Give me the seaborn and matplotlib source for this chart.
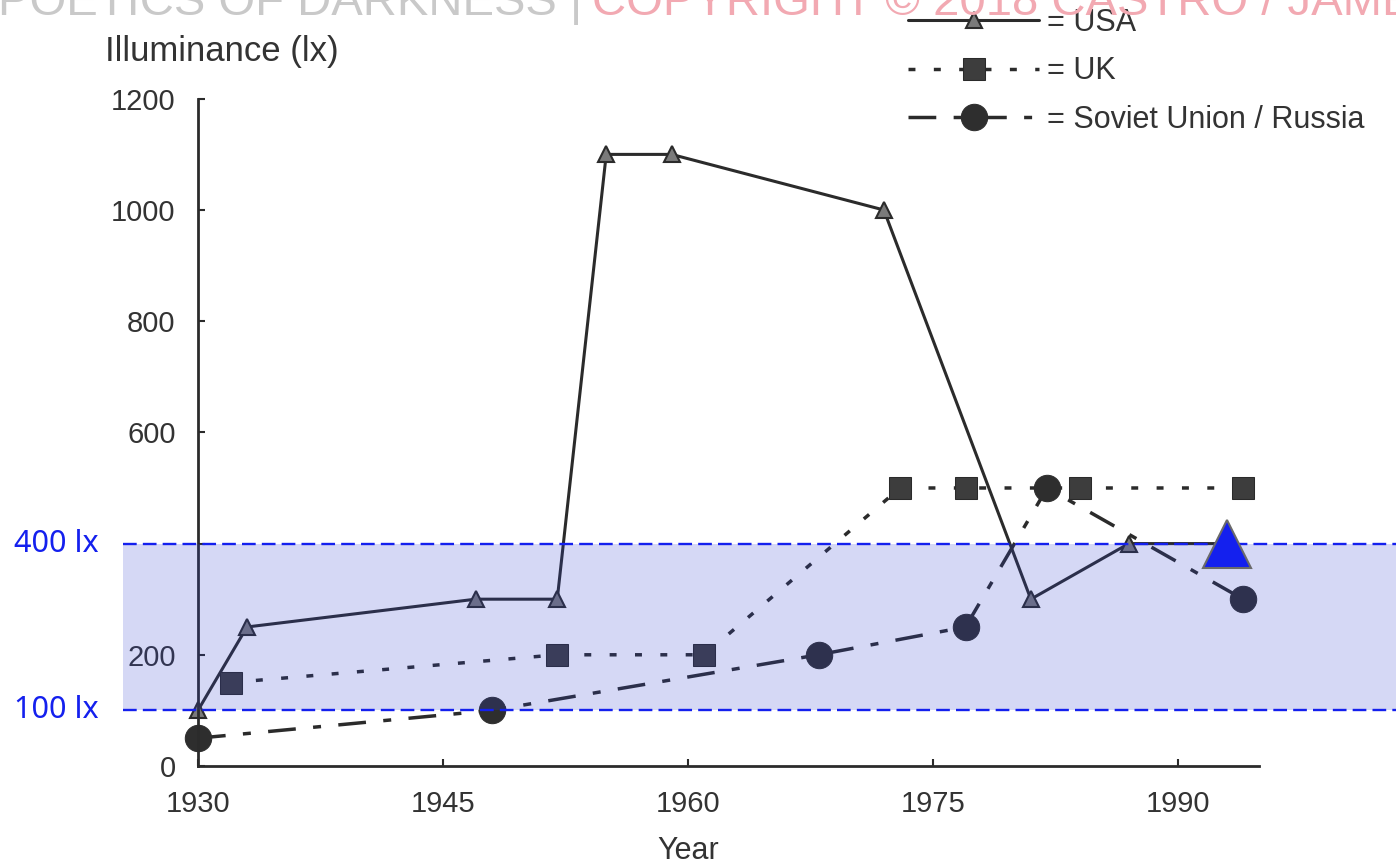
import matplotlib

matplotlib.use("Agg")
import matplotlib.pyplot as plt
import matplotlib.transforms as mtransforms
import seaborn as sns


# values
USA_YEARS = [1930, 1933, 1947, 1952, 1955, 1959, 1972, 1981, 1987, 1993]
USA_LUX = [100, 250, 300, 300, 1100, 1100, 1000, 300, 400, 400]
UK_YEARS = [1932, 1952, 1961, 1973, 1977, 1984, 1994]
UK_LUX = [150, 200, 200, 500, 500, 500, 500]
SOVIET_YEARS = [1930, 1948, 1968, 1977, 1982, 1994]
SOVIET_LUX = [50, 100, 200, 250, 500, 300]

BAND_LOW = 100
BAND_HIGH = 400
BAND_LABELS = ["100 lx", "400 lx"]
X_TICKS = [1930, 1945, 1960, 1975, 1990]
Y_TICKS = [0, 200, 400, 600, 800, 1000, 1200]
# the 400 label is hidden under the "400 lx" marker in the source
Y_TICK_LABELS = ["0", "200", "", "600", "800", "1000", "1200"]

INK = "#2b2b2b"
TEXT = "#333333"
BLUE = "#1420ee"
W, H = 1396, 865


def setup_style() -> None:
    sns.set_theme(style="white")
    plt.rcParams["font.family"] = ["Liberation Sans", "DejaVu Sans"]
    plt.rcParams["axes.facecolor"] = "white"
    plt.rcParams["figure.facecolor"] = "white"


def main() -> None:
    setup_style()
    fig = plt.figure(figsize=(W / 100, H / 100), dpi=100)
    ax = fig.add_axes([123 / W, 0, (W - 123) / W, 1])

    sns.lineplot(
        x=USA_YEARS, y=USA_LUX, ax=ax, color=INK, linewidth=2.2,
        marker="^", markersize=11, markerfacecolor="#7a7a7a",
        markeredgecolor=INK, markeredgewidth=1.5, label="= USA", zorder=2,
    )
    sns.lineplot(
        x=UK_YEARS, y=UK_LUX, ax=ax, color=INK, linewidth=2.5,
        linestyle=(0, (2, 5.3)), marker="s", markersize=16,
        markerfacecolor="#3d3d3d", markeredgecolor="#2a2a2a",
        label="= UK", zorder=2,
    )
    sns.lineplot(
        x=SOVIET_YEARS, y=SOVIET_LUX, ax=ax, color=INK, linewidth=2.5,
        linestyle=(0, (8, 5, 2.3, 5)), marker="o", markersize=19,
        markerfacecolor="#2e2e2e", markeredgecolor="#2e2e2e",
        label="= Soviet Union / Russia", zorder=2,
    )

    # recommended range band
    ax.axhspan(BAND_LOW, BAND_HIGH, color="#3040d0", alpha=0.2, lw=0, zorder=3)
    for level in (BAND_LOW, BAND_HIGH):
        ax.axhline(level, color=BLUE, lw=1.7, dashes=(5.8, 2.6), zorder=4)
    ax.plot(
        [USA_YEARS[-1]], [USA_LUX[-1]], marker="^", markersize=34,
        markerfacecolor=BLUE, markeredgecolor="#6a6a6a", markeredgewidth=1.5,
        linestyle="none", zorder=5,
    )

    trans = mtransforms.blended_transform_factory(fig.transFigure, ax.transData)
    for level, text in zip((BAND_LOW, BAND_HIGH), BAND_LABELS):
        ax.text(14 / W, level, text, transform=trans, ha="left", va="center",
                fontsize=22, color=BLUE, family=["Noto Sans", "DejaVu Sans"])

    ax.set_xlim(1925.41, 2003.36)
    ax.set_ylim(-178.1, 1377.7)
    for side in ("top", "right"):
        ax.spines[side].set_visible(False)
    ax.spines["left"].set_position(("data", 1930))
    ax.spines["left"].set_bounds(0, 1200)
    ax.spines["bottom"].set_position(("data", 0))
    ax.spines["bottom"].set_bounds(1930, 1995)
    for side in ("left", "bottom"):
        ax.spines[side].set_color(INK)
        ax.spines[side].set_linewidth(2.0)

    ax.set_xticks(X_TICKS)
    ax.set_yticks(Y_TICKS, Y_TICK_LABELS)
    ax.tick_params(axis="both", direction="in", length=5, width=1.5,
                   color=INK, labelsize=21, labelcolor=TEXT)
    ax.tick_params(axis="y", pad=16, left=True)
    ax.tick_params(axis="x", pad=17, bottom=True)

    ax.set_xlabel("Year", fontsize=22, color=TEXT)
    ax.xaxis.set_label_coords((688 - 123) / (W - 123), (H - 836) / H)
    ax.set_ylabel("")
    fig.text(105 / W, 1 - 52 / H, "Illuminance (lx)", ha="left", va="center",
             fontsize=25, color=TEXT)

    handles, labels = ax.get_legend_handles_labels()
    ax.legend(
        handles[:3], labels[:3], loc="upper left",
        bbox_to_anchor=(908 / W, 1 - 8 / H), bbox_transform=fig.transFigure,
        frameon=False, fontsize=22, handlelength=4.3, handletextpad=0.25,
        labelspacing=0.6, borderpad=0, borderaxespad=0, labelcolor=TEXT,
    )

    # bleed-through watermark at the top edge of the scan
    fig.text(-2 / W, 1 - 3 / H, "POETICS OF DARKNESS |", ha="left", va="center",
             fontsize=34, color="#c9c9c9")
    fig.text(592 / W, 1 - 3 / H, "COPYRIGHT © 2018 CASTRO / JAMES VIT", ha="left",
             va="center", fontsize=34, color="#f2a9b2")

    fig.savefig("out.png", dpi=100)
    plt.close(fig)


if __name__ == "__main__":
    main()
